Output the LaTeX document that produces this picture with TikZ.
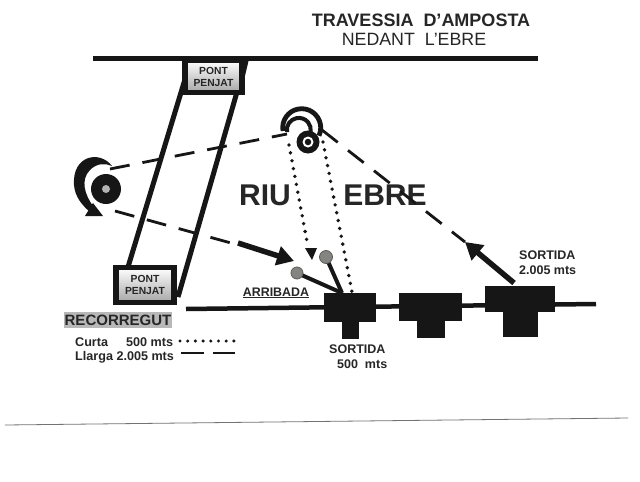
\documentclass[tikz,border=0pt]{standalone}
\usepackage{fontspec}
\setmainfont{Liberation Sans}
\usetikzlibrary{arrows.meta}
\definecolor{ink}{HTML}{161616}
\definecolor{txt}{HTML}{262626}
\definecolor{ball}{HTML}{85857F}
\tikzset{
  thickline/.style={draw=ink,line width=5pt},
  bridge/.style={draw=ink,line width=5pt},
  pontbox/.style={draw=ink,line width=5.5pt,top color=white,middle color=white,bottom color=black!35,align=center,font=\bfseries\fontsize{10.3}{12}\selectfont,text=txt,inner sep=0pt,minimum width=#1},
  longdash/.style={draw=ink,line width=2.8pt,dash pattern=on 20pt off 13pt},
  dots/.style={draw=ink,line width=3.8pt,line cap=round,dash pattern=on 0pt off 8pt},
  bigarrow/.style={draw=ink,line width=5.5pt,-{Triangle[length=17pt,width=19pt]}},
  block/.style={fill=ink,draw=none},
  legend/.style={text=txt,align=left,inner sep=0pt,font=\bfseries\fontsize{12.6}{15}\selectfont},
  lab/.style={text=txt,align=left,inner sep=0pt,font=\bfseries\fontsize{12.5}{15}\selectfont},
  ringouter/.style={circle,fill=ink,inner sep=0pt,minimum size=#1},
  gball/.style={circle,fill=ball,draw=ink!70,line width=.8pt,inner sep=0pt,minimum size=#1}
}
\begin{document}
\begin{tikzpicture}[x=1pt,y=-1pt]
\useasboundingbox (0,0) rectangle (640,482);
\fill[white] (0,0) rectangle (640,482);
% sheet edge
\coordinate (ruleL) at (5,425); \coordinate (ruleR) at (628,418);
\draw[black!55,line width=.8pt] (ruleL) -- (ruleR);
% titles
\node[text=txt,font=\bfseries\fontsize{18}{20}\selectfont,inner sep=0pt] (title) at (421,20) {TRAVESSIA\ \ D'AMPOSTA};
\node[text=txt,font=\fontsize{17.8}{20}\selectfont,inner sep=0pt] (subtitle) at (414,39) {NEDANT\ \ L'EBRE};
% banks
\coordinate (topL) at (93,58); \coordinate (topR) at (538,58);
\draw[thickline] (topL) -- (topR);
\coordinate (botL) at (186,309); \coordinate (botR) at (596,304);
\draw[draw=ink,line width=4.5pt] (botL) -- (botR);
% bridge
\coordinate (b1a) at (186,76); \coordinate (b1b) at (128,267);
\coordinate (b2a) at (237,92); \coordinate (b2b) at (178,297);
\draw[bridge] (b1a) -- (b1b);
\draw[bridge] (b2a) -- (b2b);
\fill[ink] (240,59) -- (249,59) -- (244,80) -- cycle;
\node[pontbox=57pt,minimum height=32pt] (pontA) at (213.5,76.5) {PONT\\PENJAT};
\node[pontbox=58pt,minimum height=35pt] (pontB) at (145,285) {PONT\\PENJAT};
% blocks
\fill[block] (324,293) rectangle (376,322); \fill[block] (342,320) rectangle (359,339);
\fill[block] (399,293) rectangle (462,321); \fill[block] (417,320) rectangle (445,338);
\fill[block] (485,286) rectangle (555,312); \fill[block] (503,310) rectangle (538,337);
\coordinate (blockOne) at (342,293);
\coordinate (blockDot) at (352,292);
% turn markers
\node[ringouter=30pt] (buoyL) at (106,189) {};
\node[circle,fill=black!30,inner sep=0pt,minimum size=8pt] at (buoyL) {};
\fill[ink] (112,166) .. controls (100,150) and (72,155) .. (74,185) .. controls (75,197) and (82,205) .. (90,212) -- (93,206) .. controls (85,195) and (80,180) .. (90,170) .. controls (97,163) and (105,163) .. cycle;
\fill[ink] (85,216) -- (103,216) -- (93,203) -- cycle;
\draw[draw=ink,line width=4.8pt] (283,131) arc[start angle=190,end angle=-25,radius=19pt];
\draw[draw=ink,line width=4pt] (287,132) arc[start angle=190,end angle=-10,radius=12pt];
\node[ringouter=23pt] (buoyR) at (308,142) {};
\node[circle,fill=white,inner sep=0pt,minimum size=11pt] at (buoyR) {};
\node[circle,fill=ink,inner sep=0pt,minimum size=6.5pt] at (buoyR) {};
\coordinate (upperL) at (110,169); \coordinate (upperR) at (287,134);
\coordinate (rightT) at (322,130); \coordinate (rightB) at (465,242);
\coordinate (lowerL) at (115,211); \coordinate (lowerM) at (231,243);
\coordinate (dot1T) at (289,145); \coordinate (dot1B) at (308,247);
\coordinate (dot2T) at (323,142);
% labels under the lines
\node[text=txt,font=\bfseries\fontsize{30}{32}\selectfont,inner sep=0pt] (riu) at (265,195) {RIU};
\node[text=txt,font=\bfseries\fontsize{30}{32}\selectfont,inner sep=0pt] (ebre) at (385,195) {EBRE};
% routes
\draw[longdash] (upperL) -- (upperR);
\draw[longdash] (rightT) -- (rightB);
\draw[longdash] (lowerL) -- (lowerM);
\draw[dots] (dot1T) -- (dot1B);
\draw[dots] (dot2T) -- (blockDot);
\coordinate (arrA) at (238,243); \coordinate (arrAend) at (294,261);
\draw[bigarrow] (arrA) -- (arrAend);
\coordinate (arrB) at (514,283);
\draw[bigarrow] (arrB) -- (rightB);
\fill[ink] (305,248) -- (317,248) -- (312,260) -- cycle;
% arrival markers
\draw[draw=ink,line width=4pt] (297,273) -- (blockOne);
\draw[draw=ink,line width=4pt] (326,257) -- (blockOne);
\node[gball=12pt] (ballA) at (297,273) {};
\node[gball=13pt] (ballB) at (326,257) {};
% texts
\node[text=txt,inner sep=0pt,font=\bfseries\fontsize{12.4}{14}\selectfont] (arribada) at (276,293) {\underline{ARRIBADA}};
\node[fill=black!28,text=txt,font=\bfseries\fontsize{15}{17}\selectfont,inner xsep=1pt,inner ysep=3pt] (recorregut) at (118,320) {RECORREGUT};
\node[legend,anchor=west] (curta) at (75,342) {Curta\hspace{18pt}500 mts};
\node[legend,anchor=west] (llarga) at (75,357) {Llarga 2.005 mts};
\coordinate (keyD1) at (180,341); \coordinate (keyD2) at (234,341);
\draw[draw=ink,line width=3.4pt,line cap=round,dash pattern=on 0pt off 7.7pt] (keyD1) -- (keyD2);
\coordinate (keyL1) at (181,353); \coordinate (keyL2) at (235,353);
\draw[draw=ink,line width=2.5pt,dash pattern=on 23pt off 9pt] (keyL1) -- (keyL2);
\node[lab,anchor=north west] (sort1) at (329,345) {SORTIDA\\[0pt]\hspace{8pt}500\ \ mts};
\node[lab,anchor=north west] (sort2) at (519,251) {SORTIDA\\2.005 mts};
\end{tikzpicture}
\end{document}
